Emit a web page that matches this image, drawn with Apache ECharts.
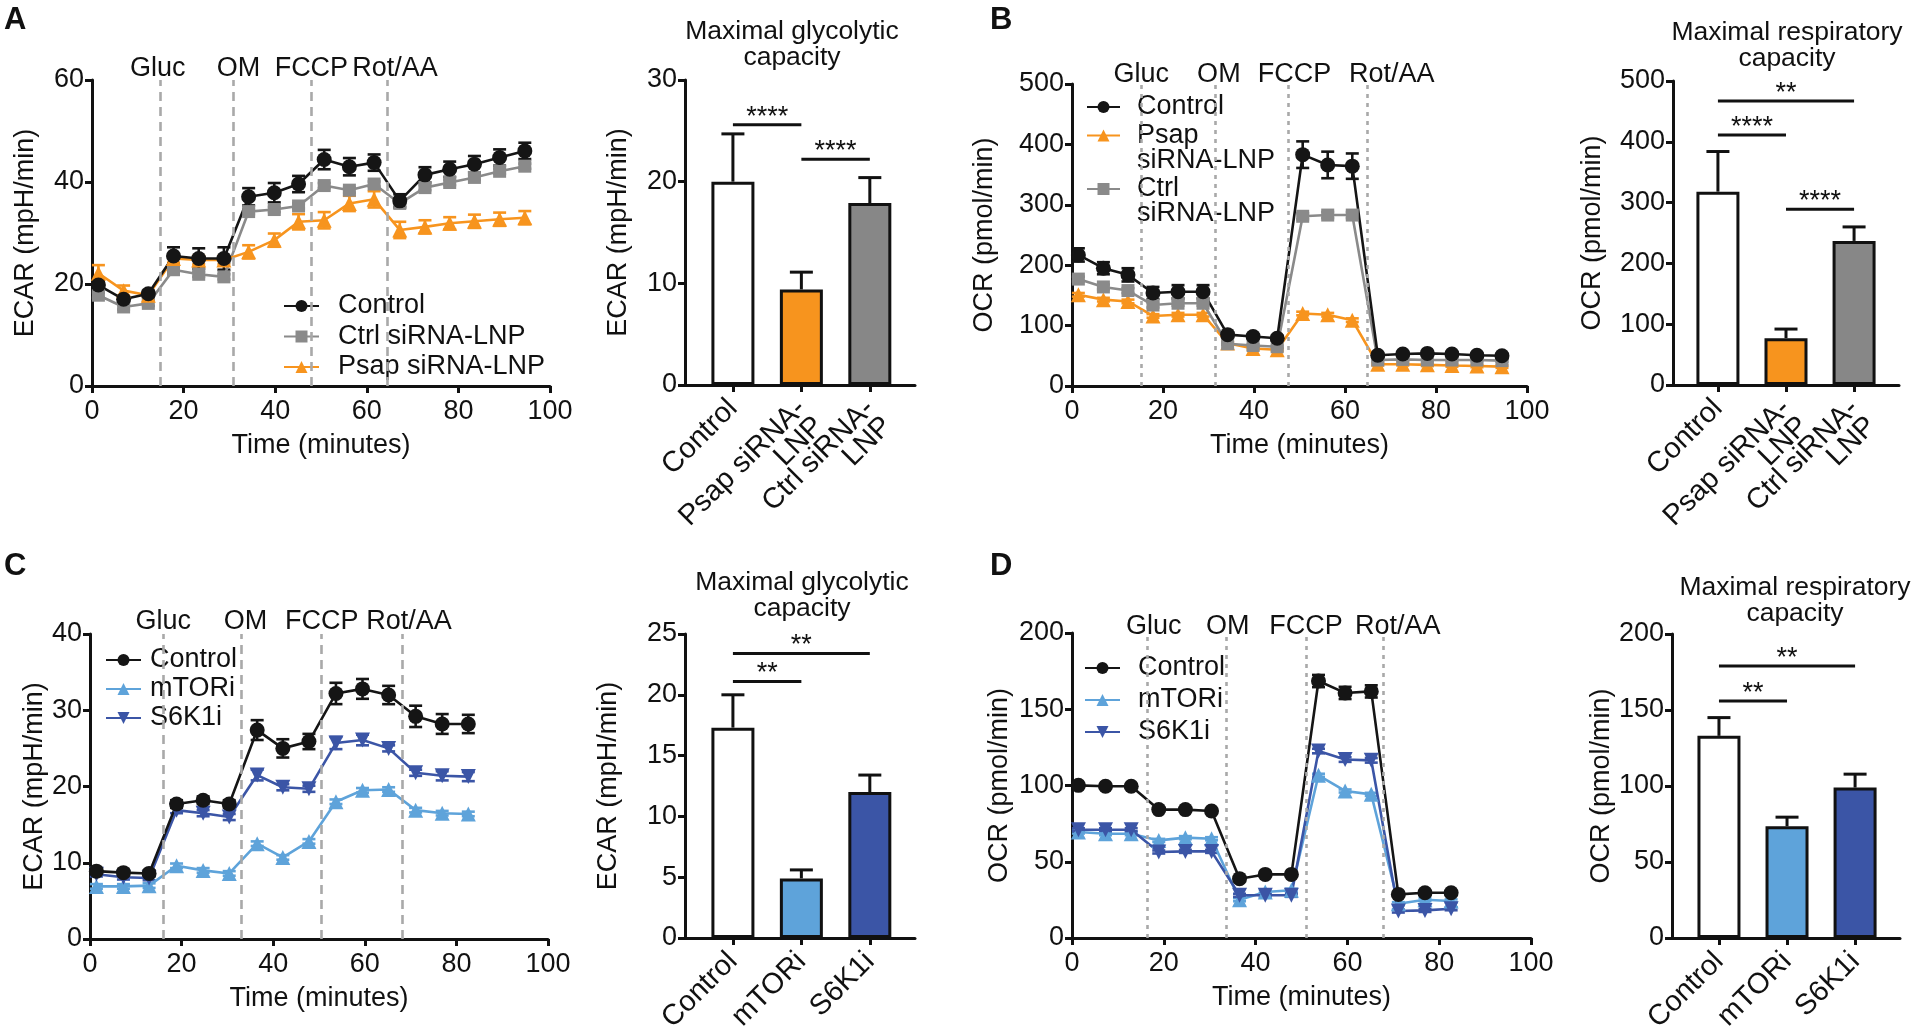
<!DOCTYPE html>
<html><head><meta charset="utf-8">
<script src="https://cdn.jsdelivr.net/npm/echarts@6/dist/echarts.min.js"></script>
<style>html,body{margin:0;padding:0;background:#fff}#c{width:1920px;height:1032px}</style>
</head><body><div id="c"></div>
<script>
// ---------------- DATA ----------------
const eventNames = ['Gluc', 'OM', 'FCCP', 'Rot/AA'];
const timeAB = [1.4, 6.9, 12.3, 17.8, 23.3, 28.8, 34.2, 39.8, 45.1, 50.7, 56.2, 61.6, 67.2, 72.7, 78.1, 83.5, 89.0, 94.5];
const timeCD = [1.4, 7.3, 12.9, 18.9, 24.7, 30.4, 36.5, 42.1, 47.8, 53.7, 59.5, 65.2, 71.1, 76.9, 82.6];
const eventsA = [14.8, 30.9, 47.9, 64.4];
const eventsB = [15.2, 31.4, 47.6, 64.8];
const eventsC = [16.0, 33.1, 50.6, 68.1];
const eventsD = [16.3, 33.5, 51.0, 67.9];

// Panel A: ECAR
const ecarA_control    = [19.8, 17.0, 18.1, 25.5, 25.0, 25.0, 37.1, 37.9, 39.6, 44.4, 43.0, 43.8, 36.3, 41.4, 42.5, 43.5, 44.8, 46.1];
const ecarA_controlErr = [0.8, 0.6, 0.6, 1.7, 2.0, 2.2, 1.7, 1.9, 1.6, 1.9, 1.7, 1.6, 1.3, 1.5, 1.5, 1.6, 1.6, 1.6];
const ecarA_ctrlSi     = [17.8, 15.5, 16.2, 22.8, 21.9, 21.4, 34.2, 34.6, 35.3, 39.3, 38.4, 39.6, 35.8, 38.9, 39.9, 40.9, 42.1, 43.1];
const ecarA_ctrlSiErr  = [0.5, 0.5, 0.5, 0.5, 0.5, 0.5, 0.5, 0.5, 0.5, 0.5, 0.5, 0.5, 0.5, 0.5, 0.5, 0.5, 0.5, 0.5];
const ecarA_psapSi     = [22.1, 18.7, 17.8, 25.0, 24.7, 24.7, 26.3, 28.6, 32.2, 32.5, 35.8, 36.6, 30.6, 31.2, 31.9, 32.3, 32.7, 33.0];
const ecarA_psapSiErr  = [1.6, 1.0, 0.5, 0.8, 0.8, 0.8, 1.3, 1.3, 1.5, 1.6, 1.5, 1.6, 1.6, 1.3, 1.2, 1.3, 1.3, 1.3];

// Panel B: OCR
const ocrB_control    = [217, 195, 184, 154, 156, 156, 85, 82, 79, 383, 366, 364, 51, 53, 54, 53, 51, 50];
const ocrB_controlErr = [11, 10, 11, 10, 11, 11, 4, 4, 4, 22, 22, 21, 3, 3, 3, 3, 3, 3];
const ocrB_psapSi     = [151, 143, 140, 116, 118, 118, 71, 62, 60, 120, 118, 109, 36, 36, 35, 34, 33, 32];
const ocrB_psapSiErr  = [3, 3, 3, 3, 3, 3, 2, 2, 2, 3, 3, 3, 2, 2, 2, 2, 2, 2];
const ocrB_ctrlSi     = [177, 164, 158, 134, 137, 137, 70, 67, 65, 281, 283, 283, 43, 44, 43, 43, 43, 42];
const ocrB_ctrlSiErr  = [4, 4, 4, 4, 4, 4, 2, 2, 2, 5, 5, 5, 2, 2, 2, 2, 2, 2];

// Panel C: ECAR
const ecarC_control    = [8.9, 8.7, 8.6, 17.7, 18.2, 17.7, 27.4, 25.0, 25.9, 32.2, 32.8, 32.0, 29.2, 28.2, 28.2];
const ecarC_controlErr = [0.4, 0.4, 0.4, 0.5, 0.5, 0.5, 1.3, 1.2, 1.0, 1.4, 1.3, 1.2, 1.4, 1.3, 1.2];
const ecarC_mtor       = [6.9, 6.9, 7.0, 9.6, 9.0, 8.6, 12.5, 10.7, 12.8, 18.0, 19.5, 19.6, 16.9, 16.5, 16.4];
const ecarC_mtorErr    = [0.3, 0.3, 0.3, 0.3, 0.3, 0.3, 0.3, 0.3, 0.3, 0.3, 0.3, 0.3, 0.3, 0.3, 0.3];
const ecarC_s6k        = [8.5, 8.1, 8.0, 16.9, 16.5, 16.0, 21.5, 19.9, 19.7, 25.7, 26.1, 25.0, 21.8, 21.4, 21.3];
const ecarC_s6kErr     = [0.3, 0.3, 0.3, 0.4, 0.4, 0.4, 0.7, 0.4, 0.4, 0.8, 0.7, 0.4, 0.4, 0.6, 0.6];

// Panel D: OCR
const ocrD_control    = [100.1, 99.5, 99.5, 84.2, 84.2, 83.3, 38.9, 41.7, 41.7, 168.5, 160.7, 161.7, 28.6, 29.7, 29.7];
const ocrD_controlErr = [1, 1, 1, 1, 1, 1, 1, 1, 1, 4, 4, 4, 1, 1, 1];
const ocrD_mtor       = [69.5, 68.4, 68.4, 64.0, 65.8, 65.1, 25.1, 30.2, 31.3, 106.7, 96.4, 94.2, 22.5, 25.1, 24.3];
const ocrD_mtorErr    = [1, 1, 1, 1, 1, 1, 1, 1, 1, 1, 1, 1, 1, 1, 1];
const ocrD_s6k        = [71.0, 71.0, 71.0, 56.4, 56.8, 56.8, 28.0, 28.0, 28.0, 122.6, 117.0, 116.5, 17.7, 18.1, 19.2];
const ocrD_s6kErr     = [1, 1, 1, 1, 1, 1, 1, 1, 1, 1.5, 1.5, 1.5, 1, 1, 1];

// Bar charts
const barCatsAB = ['Control', 'Psap siRNA-\nLNP', 'Ctrl siRNA-\nLNP'];
const barCatsCD = ['Control', 'mTORi', 'S6K1i'];
const barA_values = [20.0, 9.4, 17.9];
const barA_errors = [4.7, 1.7, 2.5];
const barB_values = [318, 77, 237];
const barB_errors = [66, 15, 23];
const barC_values = [17.3, 4.9, 12.0];
const barC_errors = [2.7, 0.7, 1.4];
const barD_values = [133, 73.5, 99];
const barD_errors = [12, 6, 8.8];

// Significance brackets: [from category #, to category #, height]
const sigA = [[1, 2, 25.6], [2, 3, 22.2]];
const sigA_stars = ['****', '****'];
const sigB = [[1, 3, 467], [1, 2, 411], [2, 3, 289]];
const sigB_stars = ['**', '****', '****'];
const sigC = [[1, 3, 23.4], [1, 2, 21.1]];
const sigC_stars = ['**', '**'];
const sigD = [[1, 3, 179], [1, 2, 156]];
const sigD_stars = ['**', '**'];

// ---------------- STYLE / BUILD ----------------
const FONT = '"Liberation Sans", Arial, Helvetica, sans-serif';
const INK = '#111111';
const C_BLACK = '#151515', C_GRAY = '#8a8a8a', C_ORANGE = '#f7941e', C_LBLUE = '#5ea3da', C_DBLUE = '#3b55a6';
const FS = 27;

const option = {
  animation: false, backgroundColor: '#ffffff',
  textStyle: { fontFamily: FONT },
  title: [], legend: [], grid: [], xAxis: [], yAxis: [], series: []
};

function axisBase() {
  return {
    axisLine: { show: true, onZero: false, lineStyle: { color: INK, width: 3 } },
    axisTick: { show: true, inside: false, length: 7, lineStyle: { color: INK, width: 3 } },
    axisLabel: { color: INK, fontSize: FS, fontFamily: FONT, margin: 10, hideOverlap: false },
    splitLine: { show: false },
    nameTextStyle: { color: INK, fontSize: FS, fontFamily: FONT }
  };
}

function errItem(color, cap, upOnly, lw) {
  return function (params, api) {
    const x = api.value(0), y = api.value(1), e = api.value(2);
    const top = api.coord([x, y + e]);
    const bot = api.coord([x, upOnly ? y : y - e]);
    const st = { stroke: color, lineWidth: lw };
    const ch = [
      { type: 'line', shape: { x1: top[0], y1: top[1], x2: bot[0], y2: bot[1] }, style: st },
      { type: 'line', shape: { x1: top[0] - cap, y1: top[1], x2: top[0] + cap, y2: top[1] }, style: st }
    ];
    if (!upOnly) ch.push({ type: 'line', shape: { x1: bot[0] - cap, y1: bot[1], x2: bot[0] + cap, y2: bot[1] }, style: st });
    return { type: 'group', children: ch };
  };
}

function addLinePanel(p) {
  const gi = option.grid.length;
  option.grid.push({ left: p.box[0], top: p.box[1], width: p.box[2], height: p.box[3], containLabel: false, outerBoundsMode: 'none' });
  const xa = axisBase();
  Object.assign(xa, { type: 'value', gridIndex: gi, min: 0, max: 100, interval: 20,
    name: 'Time (minutes)', nameLocation: 'middle', nameGap: 46 });
  xa.axisLabel.margin = 12;
  option.xAxis.push(xa);
  const ya = axisBase();
  Object.assign(ya, { type: 'value', gridIndex: gi, min: 0, max: p.ymax, interval: p.yint,
    name: p.yName, nameLocation: 'middle', nameRotate: 90, nameGap: p.yNameGap });
  ya.axisLabel.margin = 8;
  option.yAxis.push(ya);

  p.series.forEach(function (s, k) {
    const ls = {
      type: 'line', name: s.name, xAxisIndex: gi, yAxisIndex: gi,
      data: p.time.map((t, i) => [t, s.values[i]]),
      symbol: s.symbol, symbolSize: s.size, symbolRotate: s.rotate || 0,
      showSymbol: true, showAllSymbol: true,
      itemStyle: { color: s.color }, lineStyle: { color: s.color, width: 2.6 },
      emphasis: { disabled: true }, silent: true
    };
    if (k === 0) {
      ls.markLine = {
        silent: true, symbol: 'none', animation: false,
        lineStyle: { type: p.dash, color: '#a9a9a9', width: 2.6 },
        label: { show: true, position: 'end', formatter: '{b}', color: INK, fontSize: FS, fontFamily: FONT, distance: 0 },
        emphasis: { disabled: true },
        data: p.events.map((x, i) => ({ xAxis: x, name: eventNames[i], label: { offset: [p.labelDx[i], p.labelDy] } }))
      };
    }
    option.series.push(ls);
    option.series.push({
      type: 'custom', name: 'err-' + s.name, xAxisIndex: gi, yAxisIndex: gi, silent: true,
      data: p.time.map((t, i) => [t, s.values[i], s.errors[i]]),
      encode: { x: 0, y: 1 }, renderItem: errItem(s.color, 6.5, false, 2.6)
    });
  });
  const lg = p.legend;
  option.legend.push({
    left: lg.left, top: lg.top, orient: 'vertical', padding: 0, itemGap: lg.gap,
    itemWidth: lg.iw, itemHeight: 15, selectedMode: false,
    formatter: lg.formatter || '{name}',
    textStyle: { color: INK, fontSize: FS, fontFamily: FONT, lineHeight: 25, padding: [0, 0, 0, lg.pad] },
    data: lg.data
  });
}

function addBarPanel(p) {
  const gi = option.grid.length;
  option.grid.push({ left: p.box[0], top: p.box[1], width: p.box[2], height: p.box[3], containLabel: false, outerBoundsMode: 'none' });
  const pos = p.cats.map((c, i) => i + 1);
  const labelPos = [p.xr[0]].concat(pos, [p.xr[1]]);
  const xa = axisBase();
  Object.assign(xa, { type: 'value', gridIndex: gi, min: p.xr[0], max: p.xr[1] });
  xa.axisTick.customValues = pos;
  Object.assign(xa.axisLabel, { customValues: labelPos, rotate: 45, margin: 19, fontSize: 29, lineHeight: 25, hideOverlap: false,
    showMinLabel: false, showMaxLabel: false,
    formatter: function (v) {
      if (!Number.isInteger(v)) return '';
      const t = p.cats[v - 1] || '';
      return t.indexOf('\n') >= 0 ? '\n' + t : t;   // keep first line on the tick, like single-line labels
    } });
  option.xAxis.push(xa);
  const ya = axisBase();
  Object.assign(ya, { type: 'value', gridIndex: gi, min: 0, max: p.ymax, interval: p.yint,
    name: p.yName, nameLocation: 'middle', nameRotate: 90, nameGap: p.yNameGap });
  ya.axisLabel.margin = 8;
  option.yAxis.push(ya);

  option.series.push({
    type: 'custom', name: 'barerr' + gi, xAxisIndex: gi, yAxisIndex: gi, silent: true, z: 1,
    data: pos.map((x, i) => [x, p.values[i], p.errors[i]]),
    encode: { x: 0, y: 1 }, renderItem: errItem(INK, 11.5, true, 3)
  });
  option.series.push({
    type: 'bar', name: 'bar' + gi, xAxisIndex: gi, yAxisIndex: gi, barWidth: 43, silent: true, z: 2,
    data: pos.map((x, i) => ({ value: [x, p.values[i]], itemStyle: { color: p.colors[i] } })),
    itemStyle: { borderColor: INK, borderWidth: 3 }, emphasis: { disabled: true }
  });
  option.series.push({
    type: 'custom', name: 'sig' + gi, xAxisIndex: gi, yAxisIndex: gi, silent: true, z: 3,
    data: p.sig.map(s => [s[0], s[1], s[2]]),
    encode: { x: [0, 1], y: 2 },
    renderItem: function (params, api) {
      const a = api.coord([api.value(0), api.value(2)]);
      const b = api.coord([api.value(1), api.value(2)]);
      return { type: 'group', children: [
        { type: 'line', shape: { x1: a[0], y1: a[1], x2: b[0], y2: b[1] }, style: { stroke: INK, lineWidth: 3 } },
        { type: 'text', x: (a[0] + b[0]) / 2, y: a[1] + 6,
          style: { text: p.stars[params.dataIndex], fill: INK, fontSize: 27, fontFamily: FONT,
                   align: 'center', textAlign: 'center', verticalAlign: 'bottom', textVerticalAlign: 'bottom' } }
      ] };
    }
  });
  option.title.push({ text: p.title, left: p.titleX, top: p.titleY, textAlign: 'center', padding: 0,
    textStyle: { color: INK, fontSize: 26.5, fontWeight: 'normal', lineHeight: 26, fontFamily: FONT } });
}

// Panel letters
[['A', 4, 5], ['B', 990, 5], ['C', 4, 551], ['D', 990, 551]].forEach(function (l) {
  option.title.push({ text: l[0], left: l[1], top: l[2], padding: 0,
    textStyle: { color: INK, fontSize: 31, fontWeight: 'bold', fontFamily: FONT } });
});

// ---- Panel A
addLinePanel({
  box: [92, 80, 458, 306], ymax: 60, yint: 20, yName: 'ECAR (mpH/min)', yNameGap: 53,
  time: timeAB, events: eventsA, dash: [9, 6], labelDx: [-2, 5, 0, 8], labelDy: 2,
  series: [
    { name: 'Ctrl siRNA-LNP', values: ecarA_ctrlSi, errors: ecarA_ctrlSiErr, color: C_GRAY, symbol: 'rect', size: 13 },
    { name: 'Psap siRNA-LNP', values: ecarA_psapSi, errors: ecarA_psapSiErr, color: C_ORANGE, symbol: 'triangle', size: 15 },
    { name: 'Control', values: ecarA_control, errors: ecarA_controlErr, color: C_BLACK, symbol: 'circle', size: 15 }
  ],
  legend: { left: 283, top: 292.5, gap: 3.5, iw: 35, pad: 14, data: ['Control', 'Ctrl siRNA-LNP', 'Psap siRNA-LNP'] }
});
addBarPanel({
  box: [685, 80, 230, 305], xr: [0.30, 3.66], ymax: 30, yint: 10, yName: 'ECAR (mpH/min)', yNameGap: 53,
  cats: barCatsAB, values: barA_values, errors: barA_errors, colors: ['#ffffff', C_ORANGE, '#878787'],
  sig: sigA, stars: sigA_stars, title: 'Maximal glycolytic\ncapacity', titleX: 792, titleY: 19
});

// ---- Panel B
addLinePanel({
  box: [1072, 84, 455, 302], ymax: 500, yint: 100, yName: 'OCR (pmol/min)', yNameGap: 74,
  time: timeAB, events: eventsB, dash: [4, 5], labelDx: [0, 4, 6, 25], labelDy: 4,
  series: [
    { name: 'Psap siRNA-LNP', values: ocrB_psapSi, errors: ocrB_psapSiErr, color: C_ORANGE, symbol: 'triangle', size: 15 },
    { name: 'Ctrl siRNA-LNP', values: ocrB_ctrlSi, errors: ocrB_ctrlSiErr, color: C_GRAY, symbol: 'rect', size: 13 },
    { name: 'Control', values: ocrB_control, errors: ocrB_controlErr, color: C_BLACK, symbol: 'circle', size: 15 }
  ],
  legend: { left: 1086, top: 93.5, gap: -23.5, iw: 33, pad: 12,
    formatter: function (n) { return n === 'Control' ? n : '\n' + n.replace(' ', '\n'); },
    data: ['Control', 'Psap siRNA-LNP', 'Ctrl siRNA-LNP'] }
});
addBarPanel({
  box: [1673, 81, 226, 304], xr: [0.34, 3.66], ymax: 500, yint: 100, yName: 'OCR (pmol/min)', yNameGap: 67,
  cats: barCatsAB, values: barB_values, errors: barB_errors, colors: ['#ffffff', C_ORANGE, '#878787'],
  sig: sigB, stars: sigB_stars, title: 'Maximal respiratory\ncapacity', titleX: 1787, titleY: 20
});

// ---- Panel C
addLinePanel({
  box: [90, 634, 458, 305], ymax: 40, yint: 10, yName: 'ECAR (mpH/min)', yNameGap: 41,
  time: timeCD, events: eventsC, dash: [9, 6], labelDx: [0, 4, 0, 7], labelDy: 1,
  series: [
    { name: 'mTORi', values: ecarC_mtor, errors: ecarC_mtorErr, color: C_LBLUE, symbol: 'triangle', size: 15 },
    { name: 'S6K1i', values: ecarC_s6k, errors: ecarC_s6kErr, color: C_DBLUE, symbol: 'triangle', size: 15, rotate: 180 },
    { name: 'Control', values: ecarC_control, errors: ecarC_controlErr, color: C_BLACK, symbol: 'circle', size: 15 }
  ],
  legend: { left: 105, top: 646.5, gap: 2, iw: 35, pad: 4, data: ['Control', 'mTORi', 'S6K1i'] }
});
addBarPanel({
  box: [685, 634, 230, 304], xr: [0.30, 3.66], ymax: 25, yint: 5, yName: 'ECAR (mpH/min)', yNameGap: 63,
  cats: barCatsCD, values: barC_values, errors: barC_errors, colors: ['#ffffff', C_LBLUE, C_DBLUE],
  sig: sigC, stars: sigC_stars, title: 'Maximal glycolytic\ncapacity', titleX: 802, titleY: 570
});

// ---- Panel D
addLinePanel({
  box: [1072, 633, 459, 305], ymax: 200, yint: 50, yName: 'OCR (pmol/min)', yNameGap: 59,
  time: timeCD, events: eventsD, dash: [4, 5], labelDx: [7, 2, 0, 14], labelDy: 7,
  series: [
    { name: 'mTORi', values: ocrD_mtor, errors: ocrD_mtorErr, color: C_LBLUE, symbol: 'triangle', size: 15 },
    { name: 'S6K1i', values: ocrD_s6k, errors: ocrD_s6kErr, color: C_DBLUE, symbol: 'triangle', size: 15, rotate: 180 },
    { name: 'Control', values: ocrD_control, errors: ocrD_controlErr, color: C_BLACK, symbol: 'circle', size: 15 }
  ],
  legend: { left: 1084, top: 654.5, gap: 5, iw: 35, pad: 13, data: ['Control', 'mTORi', 'S6K1i'] }
});
addBarPanel({
  box: [1672, 634, 228, 304], xr: [0.31, 3.66], ymax: 200, yint: 50, yName: 'OCR (pmol/min)', yNameGap: 55,
  cats: barCatsCD, values: barD_values, errors: barD_errors, colors: ['#ffffff', C_LBLUE, C_DBLUE],
  sig: sigD, stars: sigD_stars, title: 'Maximal respiratory\ncapacity', titleX: 1795, titleY: 575
});

const chart = echarts.init(document.getElementById('c'), null, { renderer: 'canvas', width: 1920, height: 1032 });
chart.setOption(option);
</script>
</body></html>
